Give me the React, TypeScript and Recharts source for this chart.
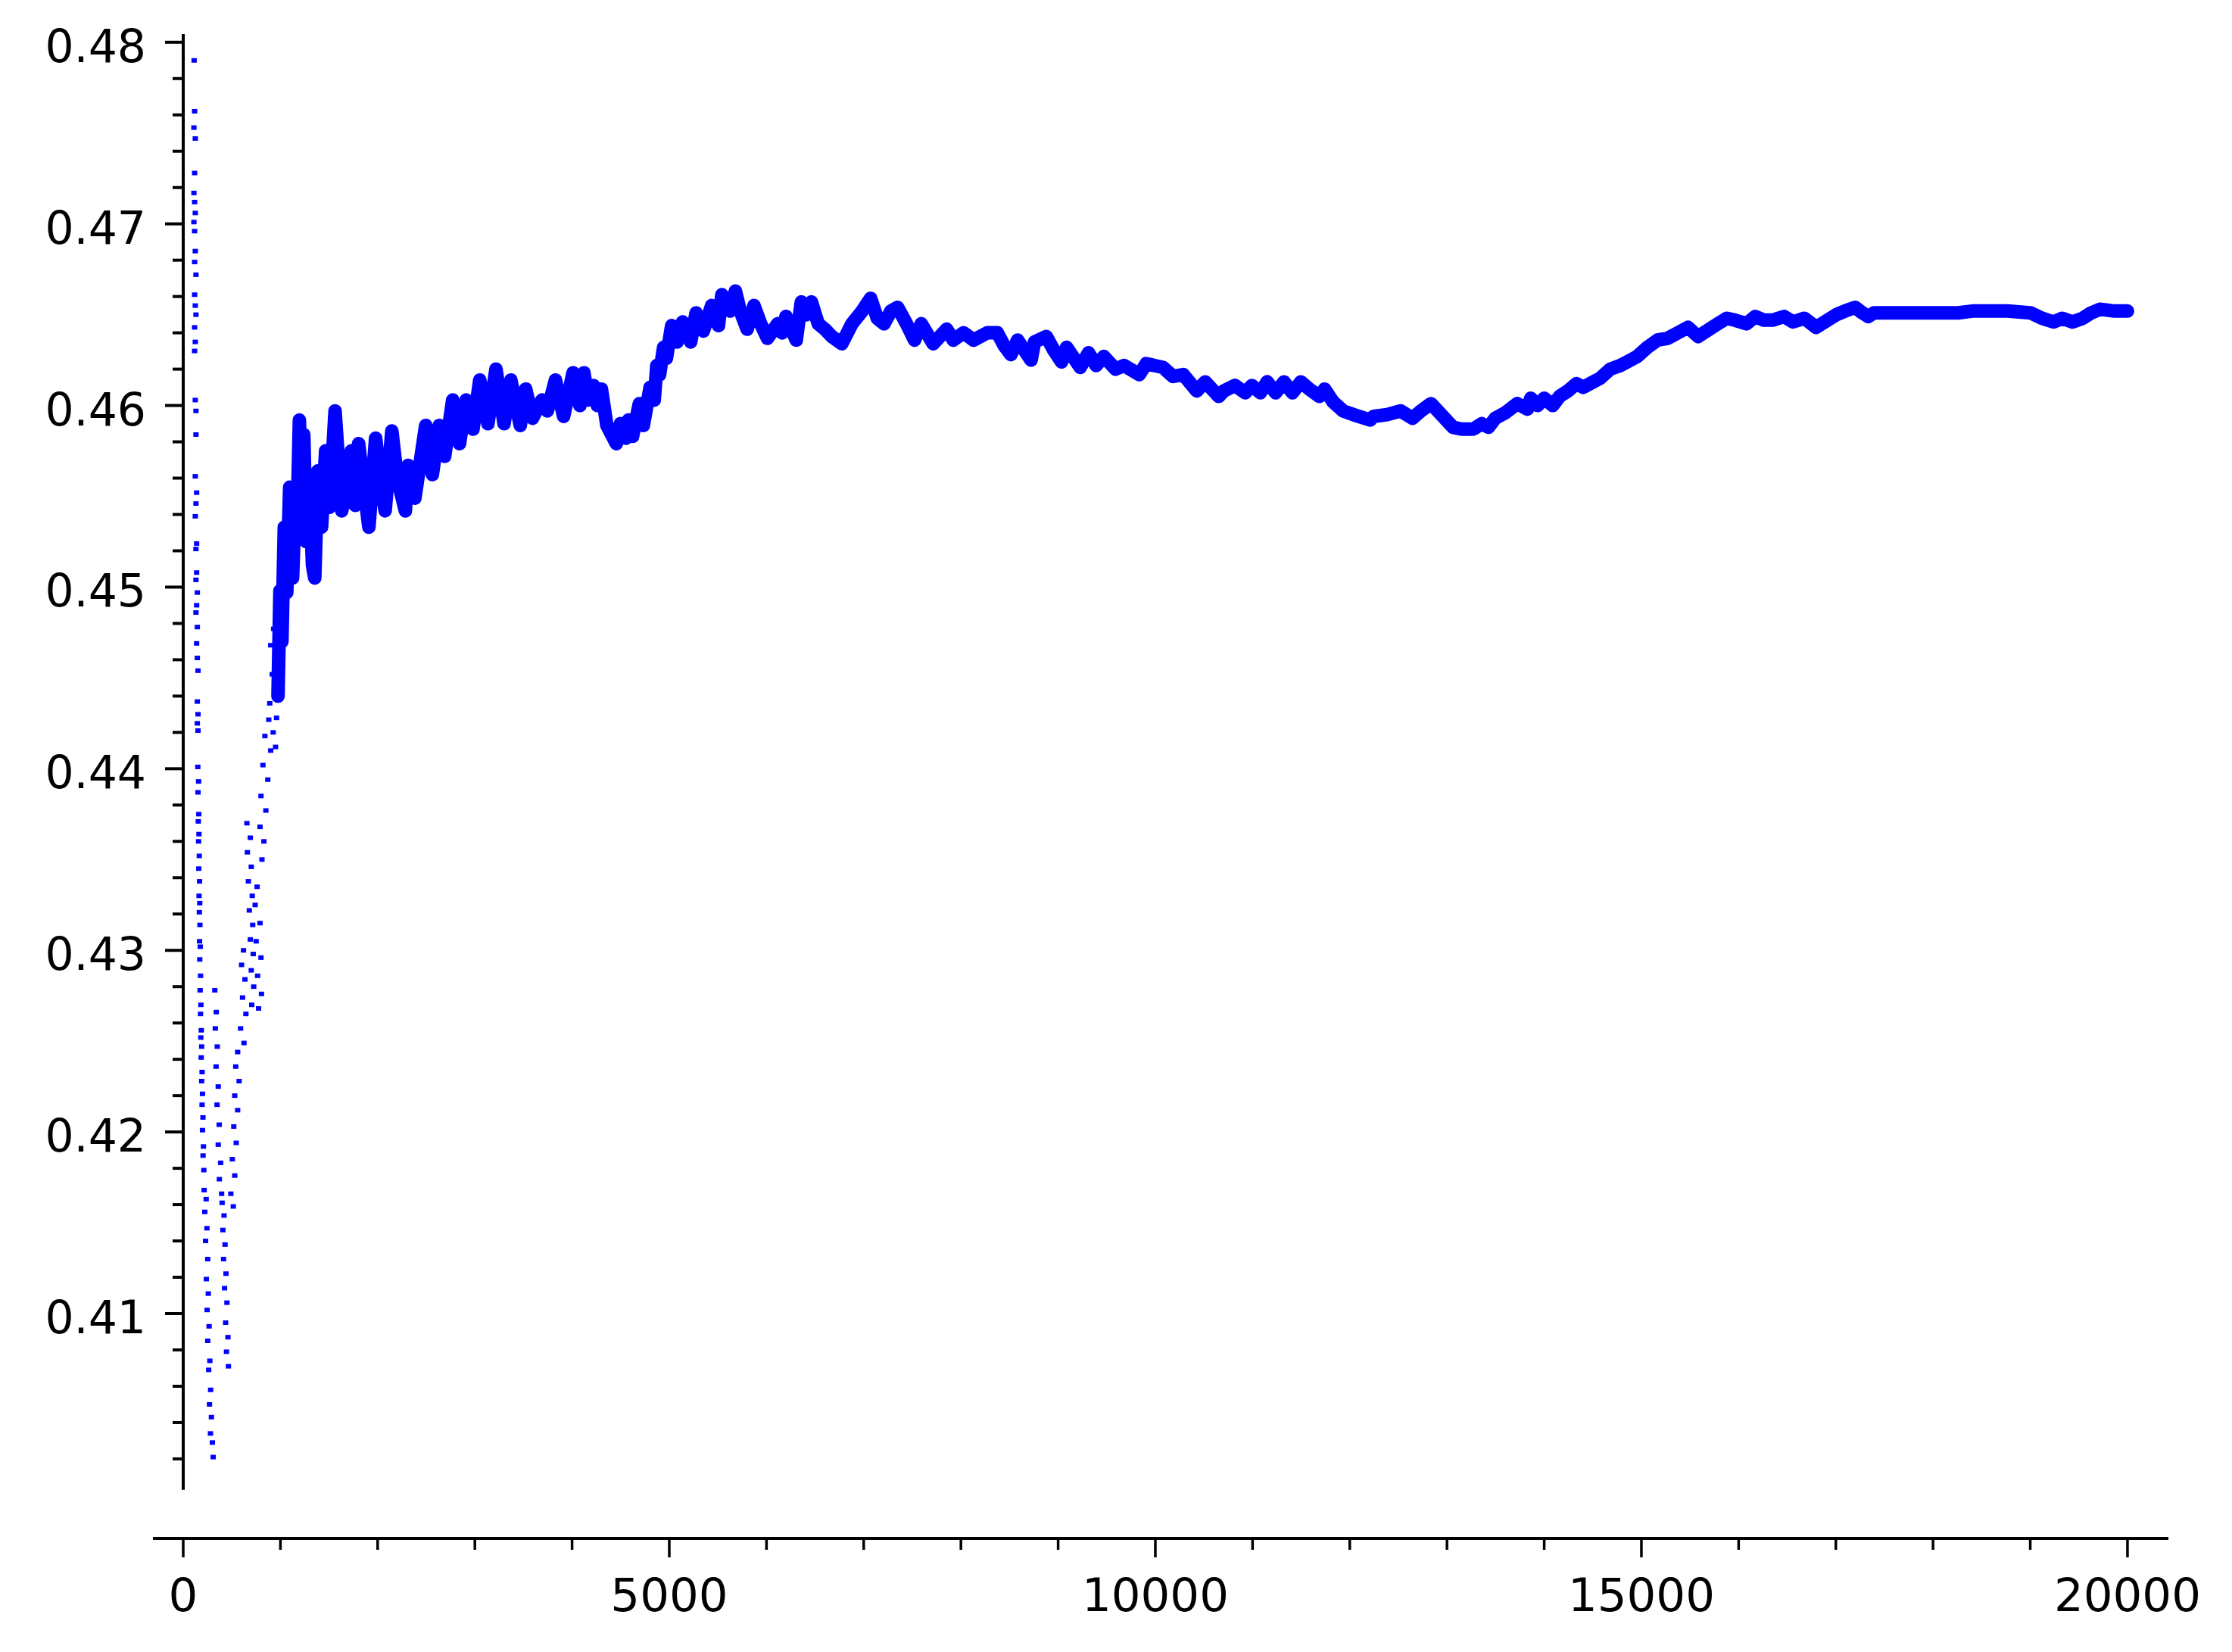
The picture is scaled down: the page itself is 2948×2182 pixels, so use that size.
import React from 'react';
import { ComposedChart, Line, Scatter, XAxis, YAxis, ReferenceLine } from 'recharts';

// early part: loose dots (n < ~1000), read column by column
const scatterN = [
  112, 117, 110, 124, 117, 110, 117, 124, 110, 117, 124, 117, 131, 117, 124, 131, 117, 124, 117, 124, 131,
  131, 124, 138, 131, 124, 138, 131, 138, 131, 145, 138, 131, 145, 138, 145, 152, 145, 152, 145, 152,
  150, 158, 152, 160, 155, 162, 158, 165, 160, 168, 163, 170, 166, 172, 168, 175, 170, 178, 174, 182, 178,
  186, 181, 190, 185, 194, 190, 198, 194, 203, 198, 208, 204, 212,
  215, 236, 222, 244, 230, 252, 238, 258, 246, 266, 252, 274, 262, 282, 270, 290, 280, 300, 308,
  325, 340, 330, 350, 338, 360, 348, 370, 360, 385, 372, 395,
  400, 420, 408, 430, 415, 440, 425, 450, 436, 460, 445, 465,
  560, 540, 575, 530, 560, 520, 545, 505, 530, 490, 515,
  620, 600, 635, 610, 645, 590, 625, 655,
  690, 660, 700, 670, 710, 680, 715, 690, 720, 700, 725, 705,
  760, 740, 790, 750, 800, 765, 805, 775,
  880, 840, 900, 820, 870, 800, 850, 790, 830, 810,
  930, 900, 945, 915, 955, 890, 960, 925, 950,
];
const scatterV = [
  0.4790, 0.4762, 0.4753, 0.4747, 0.4728, 0.4717, 0.4712, 0.4706, 0.4701, 0.4696, 0.4685, 0.4679, 0.4672, 0.4661,
  0.4655, 0.4650, 0.4643, 0.4635, 0.4630, 0.4603, 0.4597, 0.4584, 0.4561, 0.4552, 0.4546, 0.4539, 0.4524, 0.4521,
  0.4508, 0.4504, 0.4497, 0.4490, 0.4486, 0.4478, 0.4469, 0.4461, 0.4454, 0.4437, 0.4430, 0.4425, 0.4421,
  0.4401, 0.4393, 0.4387, 0.4375, 0.4371, 0.4364, 0.4360, 0.4352, 0.4345, 0.4338, 0.4330, 0.4326, 0.4321, 0.4314,
  0.4305, 0.4302, 0.4295, 0.4286, 0.4278, 0.4270, 0.4265, 0.4256, 0.4252, 0.4247, 0.4241, 0.4233, 0.4228, 0.4221,
  0.4215, 0.4208, 0.4201, 0.4192, 0.4187, 0.4179,
  0.4168, 0.4163, 0.4156, 0.4147, 0.4140, 0.4130, 0.4119, 0.4111, 0.4102, 0.4093, 0.4085, 0.4074, 0.4069, 0.4058,
  0.4050, 0.4043, 0.4034, 0.4029, 0.4021,
  0.4278, 0.4266, 0.4257, 0.4247, 0.4236, 0.4225, 0.4215, 0.4204, 0.4193, 0.4183, 0.4174, 0.4166,
  0.4161, 0.4154, 0.4146, 0.4138, 0.4130, 0.4122, 0.4114, 0.4106, 0.4095, 0.4087, 0.4079, 0.4071,
  0.4244, 0.4236, 0.4228, 0.4220, 0.4212, 0.4203, 0.4194, 0.4185, 0.4176, 0.4166, 0.4159,
  0.4300, 0.4292, 0.4284, 0.4274, 0.4265, 0.4257, 0.4249, 0.4370,
  0.4362, 0.4354, 0.4346, 0.4338, 0.4330, 0.4322, 0.4314, 0.4306, 0.4298, 0.4289, 0.4280, 0.4270,
  0.4335, 0.4325, 0.4315, 0.4305, 0.4296, 0.4286, 0.4276, 0.4268,
  0.4427, 0.4418, 0.4410, 0.4402, 0.4394, 0.4385, 0.4377, 0.4368, 0.4360, 0.4350,
  0.4477, 0.4468, 0.4460, 0.4452, 0.4444, 0.4436, 0.4428, 0.4420, 0.4412,
];

// main band from n ~ 1000 on (peaks and troughs of the wiggle)
const bandN = [
  975, 995, 1015, 1040, 1065, 1095, 1125, 1150, 1170, 1195, 1215, 1240, 1265, 1295, 1330, 1353, 1385, 1423,
  1465, 1506, 1562, 1631, 1729, 1770, 1804, 1868, 1910, 1979, 2035, 2077, 2146, 2202, 2285, 2313, 2383, 2494,
  2563, 2633, 2689, 2772, 2842, 2911, 2981, 3050, 3134, 3217, 3300, 3370, 3467, 3523, 3593, 3690, 3746, 3829,
  3913, 4010, 4080, 4122, 4163, 4219, 4260, 4302, 4358, 4455, 4497, 4553, 4580, 4622, 4692, 4733, 4803, 4845,
  4872, 4900, 4942, 4970, 5025, 5081, 5137, 5220, 5276, 5350, 5436, 5506, 5541, 5628, 5680, 5730, 5801, 5871,
  5940, 6010, 6115, 6160, 6201, 6306, 6358, 6410, 6462, 6532, 6600, 6671, 6775, 6879, 6984, 7071, 7140, 7210,
  7280, 7349, 7440, 7523, 7592, 7714, 7853, 7922, 8027, 8130, 8270, 8375, 8444, 8514, 8583, 8722, 8757, 8879,
  8960, 9035, 9087, 9227, 9313, 9390, 9470, 9591, 9678, 9835, 9905, 10078, 10182, 10287, 10426, 10513, 10652,
  10704, 10819, 10924, 10993, 11080, 11150, 11237, 11324, 11410, 11497, 11584, 11689, 11741, 11828, 11932,
  12036, 12210, 12245, 12384, 12523, 12645, 12732, 12836, 12975, 13062, 13149, 13271, 13358, 13427, 13497,
  13601, 13723, 13827, 13862, 13932, 14001, 14088, 14158, 14244, 14331, 14401, 14505, 14575, 14679, 14783,
  14888, 14957, 15062, 15166, 15270, 15375, 15479, 15583, 15670, 15757, 15878, 15961, 16081, 16170, 16260,
  16349, 16468, 16558, 16677, 16796, 16915, 17005, 17094, 17199, 17273, 17333, 17392, 17661, 17959, 18257,
  18406, 18555, 18764, 19002, 19121, 19240, 19330, 19434, 19539, 19628, 19717, 19867, 20000,
];
const bandV = [
  0.4440, 0.4498, 0.4470, 0.4533, 0.4497, 0.4555, 0.4505, 0.4545, 0.4530, 0.4592, 0.4540, 0.4584, 0.4525, 0.4562,
  0.4512, 0.4505, 0.4564, 0.4533, 0.4575, 0.4544, 0.4597, 0.4542, 0.4575, 0.4545, 0.4579, 0.4551, 0.4533, 0.4582,
  0.4557, 0.4542, 0.4586, 0.4560, 0.4542, 0.4567, 0.4549, 0.4589, 0.4562, 0.4589, 0.4572, 0.4603, 0.4579, 0.4603,
  0.4587, 0.4614, 0.4590, 0.4620, 0.4590, 0.4614, 0.4589, 0.4609, 0.4593, 0.4603, 0.4597, 0.4614, 0.4594, 0.4618,
  0.4600, 0.4618, 0.4603, 0.4611, 0.4600, 0.4609, 0.4589, 0.4579, 0.4590, 0.4582, 0.4592, 0.4583, 0.4601, 0.4589,
  0.4610, 0.4603, 0.4622, 0.4617, 0.4632, 0.4626, 0.4644, 0.4635, 0.4646, 0.4635, 0.4651, 0.4641, 0.4655, 0.4644,
  0.4661, 0.4652, 0.4663, 0.4652, 0.4642, 0.4655, 0.4645, 0.4637, 0.4645, 0.4640, 0.4649, 0.4636, 0.4657, 0.4650,
  0.4657, 0.4645, 0.4642, 0.4638, 0.4634, 0.4645, 0.4652, 0.4659, 0.4648, 0.4645, 0.4652, 0.4654, 0.4645, 0.4636,
  0.4645, 0.4634, 0.4642, 0.4636, 0.4640, 0.4636, 0.4640, 0.4640, 0.4633, 0.4628, 0.4636, 0.4625, 0.4635, 0.4638,
  0.4630, 0.4624, 0.4632, 0.4621, 0.4629, 0.4622, 0.4627, 0.4620, 0.4622, 0.4617, 0.4623, 0.4621, 0.4616, 0.4617,
  0.4608, 0.4613, 0.4605, 0.4608, 0.4611, 0.4607, 0.4611, 0.4607, 0.4613, 0.4607, 0.4613, 0.4607, 0.4613, 0.4609,
  0.4605, 0.4609, 0.4602, 0.4597, 0.4595, 0.4592, 0.4594, 0.4595, 0.4597, 0.4593, 0.4597, 0.4601, 0.4593, 0.4588,
  0.4587, 0.4587, 0.4590, 0.4588, 0.4593, 0.4596, 0.4601, 0.4598, 0.4604, 0.4600, 0.4604, 0.4600, 0.4605, 0.4608,
  0.4612, 0.4610, 0.4613, 0.4615, 0.4620, 0.4622, 0.4625, 0.4627, 0.4632, 0.4636, 0.4637, 0.4640, 0.4643, 0.4638,
  0.4641, 0.4644, 0.4648, 0.4647, 0.4645, 0.4649, 0.4647, 0.4647, 0.4649, 0.4646, 0.4648, 0.4643, 0.4647, 0.4650,
  0.4652, 0.4654, 0.4651, 0.4649, 0.4651, 0.4651, 0.4651, 0.4651, 0.4652, 0.4652, 0.4652, 0.4651, 0.4648, 0.4646,
  0.4648, 0.4646, 0.4648, 0.4651, 0.4653, 0.4652, 0.4652,
];

const xTicks = [
  0, 1000, 2000, 3000, 4000, 5000, 6000, 7000, 8000, 9000, 10000,
  11000, 12000, 13000, 14000, 15000, 16000, 17000, 18000, 19000, 20000,
];
const yTicks = [
  0.402, 0.404, 0.406, 0.408, 0.41, 0.412, 0.414, 0.416, 0.418, 0.42, 0.422, 0.424, 0.426, 0.428,
  0.43, 0.432, 0.434, 0.436, 0.438, 0.44, 0.442, 0.444, 0.446, 0.448, 0.45, 0.452, 0.454, 0.456,
  0.458, 0.46, 0.462, 0.464, 0.466, 0.468, 0.47, 0.472, 0.474, 0.476, 0.478, 0.48,
];

const scatterData = scatterN.map((n, i) => ({ n, v: scatterV[i] }));
const bandData = bandN.map((n, i) => ({ n, v: bandV[i] }));

const X_MIN = 0;
const X_MAX = 20421;
const X_AXIS_START = -311;
const Y_MIN = 0.39762;
const Y_MAX = 0.48045;
const Y_AXIS_BOTTOM = 0.4003;

const BLUE = '#0000ff';
const FONT = '"DejaVu Sans", Verdana, sans-serif';

const XTick = (props: any) => {
  const { x, y, payload } = props;
  const major = payload.value % 5000 === 0;
  return (
    <g>
      <line x1={x} y1={y} x2={x} y2={y + (major ? 25 : 15)} stroke="#000" strokeWidth={3.5} />
      {major && (
        <text x={x} y={y + 96} textAnchor="middle" fontSize={61} fontFamily={FONT} fill="#000">
          {payload.value}
        </text>
      )}
    </g>
  );
};

const YTick = (props: any) => {
  const { x, y, payload } = props;
  const v: number = payload.value;
  const major = Math.abs(v * 100 - Math.round(v * 100)) < 1e-6;
  return (
    <g>
      <line x1={x - (major ? 24 : 14)} y1={y} x2={x} y2={y} stroke="#000" strokeWidth={4} />
      {major && (
        <text x={x - 49} y={y + 26} textAnchor="end" fontSize={60} fontFamily={FONT} fill="#000">
          {v.toFixed(2)}
        </text>
      )}
    </g>
  );
};

const Dot = (props: any) => {
  const { cx, cy } = props;
  return <rect x={cx - 3.5} y={cy - 3} width={7} height={6} fill={BLUE} />;
};

export default function App() {
  return (
    <div style={{ width: 2932, height: 2160 }}>
      <ComposedChart width={2932} height={2160} margin={{ top: 37, right: 76, bottom: 0, left: 0 }}>
        <XAxis
          type="number"
          dataKey="n"
          domain={[X_MIN, X_MAX]}
          allowDataOverflow
          ticks={xTicks}
          interval={0}
          axisLine={false}
          tickLine={false}
          tickSize={0}
          tickMargin={0}
          height={136}
          tick={<XTick />}
        />
        <YAxis
          type="number"
          dataKey="v"
          domain={[Y_MIN, Y_MAX]}
          allowDataOverflow
          ticks={yTicks}
          interval={0}
          axisLine={false}
          tickLine={false}
          tickSize={0}
          tickMargin={0}
          width={234}
          tick={<YTick />}
        />
        <Scatter data={scatterData} dataKey="v" shape={<Dot />} isAnimationActive={false} />
        <Line
          data={bandData}
          dataKey="v"
          type="linear"
          stroke={BLUE}
          strokeWidth={18}
          strokeLinejoin="round"
          strokeLinecap="round"
          dot={false}
          activeDot={false}
          isAnimationActive={false}
        />
        <ReferenceLine
          segment={[{ x: 0, y: Y_AXIS_BOTTOM }, { x: 0, y: Y_MAX }]}
          stroke="#000"
          strokeWidth={4}
          ifOverflow="visible"
        />
        <ReferenceLine
          segment={[{ x: X_AXIS_START, y: Y_MIN }, { x: X_MAX, y: Y_MIN }]}
          stroke="#000"
          strokeWidth={4}
          ifOverflow="visible"
        />
      </ComposedChart>
    </div>
  );
}
